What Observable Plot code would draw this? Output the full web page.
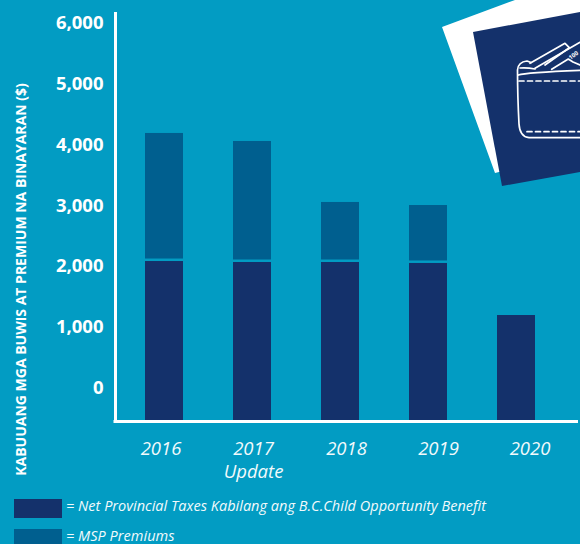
<!DOCTYPE html>
<html>
<head>
<meta charset="utf-8">
<script src="https://cdn.jsdelivr.net/npm/d3@7"></script>
<script src="https://cdn.jsdelivr.net/npm/@observablehq/plot@0.6"></script>
<style>
html,body{margin:0;padding:0;background:#029cc3;width:580px;height:544px;overflow:hidden}
#chart{position:relative;width:580px;height:544px;overflow:hidden}
#chart svg.plot{display:block;background:transparent}
#art{position:absolute;left:0;top:0}
.lg{position:absolute;left:14px;width:48px;height:19px}
.lt{position:absolute;left:66px;color:#f2fafc;font:italic 14.5px "Open Sans",sans-serif;letter-spacing:.02px;white-space:nowrap}
</style>
</head>
<body>
<div id="chart"></div>
<script>
const years = ["2016","2017","2018","2019","2020"];
const netTaxes = [2072,2056,2056,2040,1184];
const mspPremiums = [2106,1990,987,953,0];
const yTicks = [0,1000,2000,3000,4000,5000,6000];
const yearLabelNudge = [-3.5,1,6,10,13.5];
const axisFloor = -559;
const axisTop = 6151;
const yTitle = "KABUUANG MGA BUWIS AT PREMIUM NA BINAYARAN ($)";
const legendNet = "= Net Provincial Taxes Kabilang ang B.C.Child Opportunity Benefit";
const legendMsp = "= MSP Premiums";
const updateLabel = "Update";

const BG="#029cc3", NAVY="#14316b", MID="#005f8f", WHITE="#ffffff";
const font='"Open Sans",sans-serif';

const rows = years.map((year,i)=>({year,net:netTaxes[i],msp:mspPremiums[i],top:netTaxes[i]+mspPremiums[i]}));

const plot = Plot.plot({
  width:580,height:490,
  marginTop:13,marginBottom:69,marginLeft:115,marginRight:2,
  style:{background:"transparent",fontFamily:font,overflow:"visible"},
  x:{type:"band",domain:years,range:[120.5,560.5],paddingInner:.568,paddingOuter:.284,align:.5,axis:null},
  y:{domain:[axisFloor,axisTop],ticks:yTicks,axis:null},
  marks:[
    Plot.barY(rows,{x:"year",y1:axisFloor,y2:"net",fill:NAVY}),
    Plot.barY(rows.filter(d=>d.msp>0),{x:"year",y1:"net",y2:"top",fill:MID,insetBottom:2.5}),
    Plot.axisY(yTicks,{anchor:"left",tickSize:0,tickPadding:12,dy:0.5,tickFormat:d3.format(","),label:null,fontSize:18.5,fontWeight:700,fill:WHITE}),
    Plot.text([yTitle],{frameAnchor:"left",text:d=>d,rotate:-90,dx:-94,dy:62,fill:WHITE,fontSize:14,fontWeight:700,textAnchor:"middle",style:"letter-spacing:.75px"}),
    ...rows.map((d,i)=>Plot.text([d],{x:"year",y:()=>axisFloor,text:"year",dx:yearLabelNudge[i],dy:28,fill:"#f2fafc",fontSize:18.5,fontStyle:"italic"})),
    Plot.text([updateLabel],{x:()=>years[1],y:()=>axisFloor,text:d=>d,dx:1,dy:51,fill:"#f2fafc",fontSize:18.5,fontStyle:"italic"}),
    Plot.frame({anchor:"left",stroke:WHITE,strokeWidth:3}),
    Plot.ruleY([axisFloor],{stroke:WHITE,strokeWidth:3,insetLeft:-1.5})
  ]
});
const root=document.getElementById("chart");
root.appendChild(plot);

root.insertAdjacentHTML("beforeend",`
<svg id="art" width="580" height="490" viewBox="0 0 580 490">
  <polygon points="442,27 515,0 580,0 580,172 499,172 495,173" fill="#fff"/>
  <polygon points="473,32 580,12 580,172 502,186" fill="${NAVY}"/>
  <g fill="none" stroke="#fff" stroke-width="1.7" stroke-linejoin="round" stroke-linecap="round">
    <path d="M580 137.7 L529 137.7 C522 137 519.5 132 519 124 C518 105 517.5 88 517.5 70 C518 64 522 61.5 527 61 L531 62.5"/>
    <path d="M518.3 75 C524 73 536 72 580 70.3"/>
    <path d="M520 68 C526 67.5 530 68 535 69"/>
    <path d="M530 63.3 L565 43.3 L569.3 47.7 L545 65"/>
    <path d="M535 68.3 L580 42.3"/>
    <path d="M551.7 69.3 L568.3 59 L573 62 L580 65"/>
    <path d="M519 81 H580" stroke-dasharray="5 3.5"/>
    <path d="M527 131.7 H580" stroke-dasharray="5 3.5"/>
  </g>
  <text transform="translate(570.5,60) rotate(-35)" fill="#fff" font-size="6" font-weight="700" font-family='"Open Sans",sans-serif'>100</text>
</svg>
<div class="lg" style="top:499px;background:${NAVY}"></div>
<div class="lt" style="top:496px">${legendNet}</div>
<div class="lg" style="top:529px;background:${MID}"></div>
<div class="lt" style="top:528px;line-height:16px">${legendMsp}</div>
`);
</script>
</body>
</html>
